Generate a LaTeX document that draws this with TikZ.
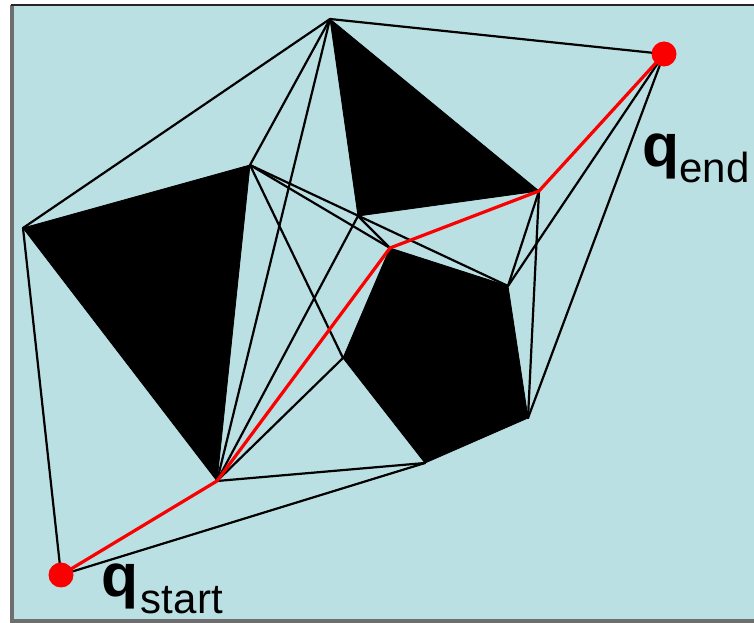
\documentclass[tikz,border=0pt]{standalone}
\usepackage{fontspec}
\setmainfont{Liberation Sans}
\definecolor{bgblue}{RGB}{186,224,227}
\definecolor{framegray}{RGB}{110,110,110}
\definecolor{pathred}{RGB}{250,0,0}
\begin{document}
\begin{tikzpicture}[x=0.75pt,y=-0.75pt,
  obstacle/.style={fill=black,draw=black,line width=0.6pt,line join=round},
  edge/.style={draw=black,line width=1.65pt,line cap=round},
  route/.style={draw=pathred,line width=2.4pt,line join=round,line cap=round},
  endpoint/.style={circle,fill=pathred,inner sep=0pt,minimum size=25*0.75pt},
  qlabel/.style={inner sep=0pt,anchor=base west,font=\fontsize{45.5}{46}\selectfont}]
\useasboundingbox (0,0) rectangle (754,623);
% background frame
\fill[bgblue] (12,5) rectangle (770,621);
\draw[framegray,line width=2.4pt] (12,5) -- (12,621) -- (770,621);
\draw[black!85,line width=1.5pt] (11,5) -- (770,5);
% vertices
\coordinate (A) at (330,19);
\coordinate (B) at (23,228);
\coordinate (C) at (250,165);
\coordinate (D) at (217,481);
\coordinate (F) at (539,191);
\coordinate (G) at (358,216);
\coordinate (H) at (390,248);
\coordinate (I) at (508,286);
\coordinate (J) at (528,418);
\coordinate (K) at (425,463);
\coordinate (L) at (343,358);
\coordinate (S) at (61,575);
\coordinate (E) at (664,54);
% obstacles
\path[obstacle] (B) -- (C) -- (D) -- cycle;
\path[obstacle] (A) -- (F) -- (G) -- cycle;
\path[obstacle] (H) -- (I) -- (J) -- (K) -- (L) -- cycle;
% visibility edges
\draw[edge] (A) -- (B);
\draw[edge] (A) -- (C);
\draw[edge] (A) -- (D);
\draw[edge] (A) -- (E);
\draw[edge] (B) -- (S);
\draw[edge] (C) -- (H);
\draw[edge] (C) -- (I);
\draw[edge] (C) -- (L);
\draw[edge] (G) -- (D);
\draw[edge] (G) -- (H);
\draw[edge] (D) -- (L);
\draw[edge] (D) -- (K);
\draw[edge] (S) -- (K);
\draw[edge] (F) -- (I);
\draw[edge] (F) -- (J);
\draw[edge] (E) -- (I);
\draw[edge] (E) -- (J);
% shortest path
\draw[route] (S) -- (D) -- (H) -- (F) -- (E);
% end points
\node[endpoint] (qs) at (S) {};
\node[endpoint] (qe) at (E) {};
% labels
\node[qlabel] (lend) at (642,167) {\textbf{q}\raisebox{-11.5pt}{\fontsize{31.5}{32}\selectfont end}};
\node[qlabel] (lstart) at (101,597) {\textbf{q}\kern2pt\raisebox{-12.5pt}{\fontsize{31.5}{32}\selectfont start}};
\end{tikzpicture}
\end{document}
